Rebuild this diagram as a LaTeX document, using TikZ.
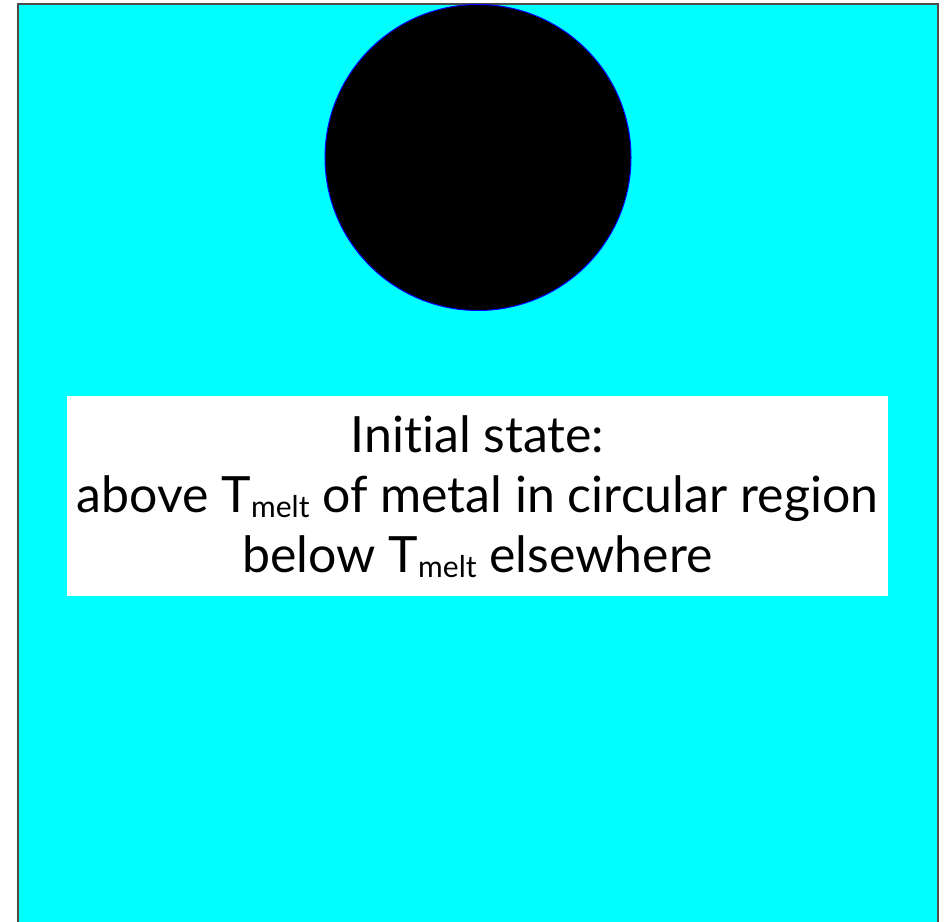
\documentclass[tikz,border=0pt]{standalone}
\usepackage{fontspec}
\setmainfont[Ligatures={NoCommon,NoRare}]{Lato}
\definecolor{aqua}{RGB}{0,255,255}
\newcommand\Tmeltsub{T\raisebox{-5pt}{\fontsize{30}{30}\selectfont melt}}
\tikzset{
  txt/.style={anchor=base, inner sep=0pt, font=\fontsize{50}{58}\selectfont},
}
\begin{document}
\begin{tikzpicture}[x=1pt,y=1pt]
\useasboundingbox (0,0) rectangle (944,921);
\fill[white] (0,0) rectangle (944,921);
\draw[fill=aqua, draw=black!70, line width=2.5pt] (18,-5) rectangle (938,917);
\draw[fill=black, draw=blue, line width=1pt] (478,763.5) circle (153);
\node[fill=white, minimum width=821pt, minimum height=200pt, inner sep=0pt] (box) at (477.5,425) {};
\node[txt] (l1) at (477.5,468) {Initial state:};
\node[txt] (l2) at (477.5,408) {above \Tmeltsub{} of metal in circular region};
\node[txt] (l3) at (477.5,348) {below \Tmeltsub{} elsewhere};
\end{tikzpicture}
\end{document}
